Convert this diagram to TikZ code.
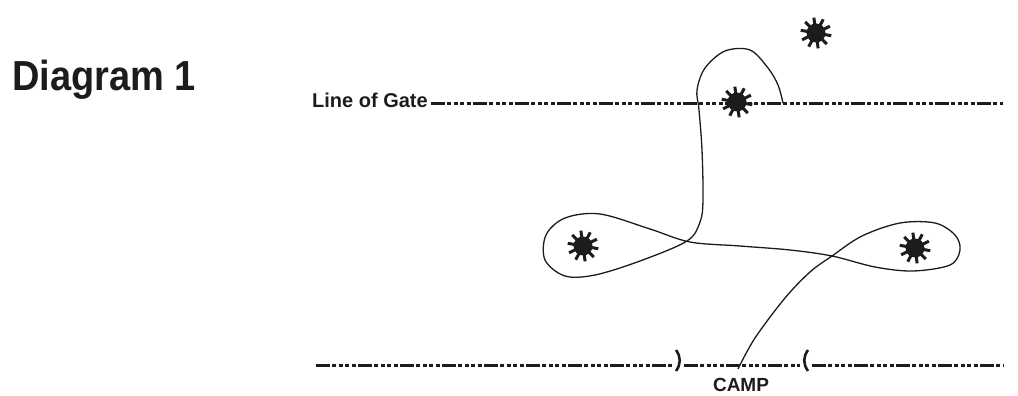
\documentclass[tikz,border=0pt]{standalone}
\usepackage{fontspec}
\setmainfont{Liberation Sans}
\usepackage{xcolor}
\usepackage{graphicx}
\usetikzlibrary{positioning}
\definecolor{diagInk}{RGB}{28,28,28}
\tikzset{
  dotline/.style={diagInk, line width=3pt, dash pattern=on 13.5pt off 2.5pt on 4pt off 2.5pt on 4pt off 2.5pt on 4pt off 2.5pt on 4pt off 2.5pt},
  routeline/.style={diagInk, line width=1.3pt},
  postline/.style={diagInk, line width=2.6pt},
  marklabel/.style={text=diagInk, inner sep=0pt, font=\bfseries\fontsize{19}{19}\selectfont},
}
\newcommand{\flagstar}[2]{%
  \fill[diagInk] (#1,#2) circle (9.5);
  \foreach \ang in {0,36,...,324}
    \draw[diagInk, line width=3pt] (#1,#2)--++(\ang+10:15.5);
}
\begin{document}
\begin{tikzpicture}[x=1pt,y=-1pt]
\useasboundingbox (0,0) rectangle (1018,396);

\node[marklabel, anchor=base west, font=\bfseries\fontsize{42}{42}\selectfont] (title) at (12,91) {\scalebox{0.905}[1]{Diagram 1}};
\node[marklabel, anchor=base west, font=\bfseries\fontsize{20}{20}\selectfont] (gate) at (312,107) {Line of Gate};
\node[marklabel, anchor=base] (camp) at (741,391) {CAMP};

\draw[dotline] (431,103.5)--(1003,103.5);
\draw[dotline] (316,365.5)--(673,365.5);
\draw[dotline] (684,365.5)--(800,365.5);
\draw[dotline] (812,365.5)--(1003,365.5);

% entrance posts
\draw[postline] (676,350) .. controls (681,357) and (681,364) .. (676,371);
\draw[postline] (808,350) .. controls (803,357) and (803,364) .. (808,371);

\flagstar{816}{33}
\flagstar{737}{102}
\flagstar{583}{246}
\flagstar{915}{248}

\draw[routeline] plot[smooth, tension=0.55] coordinates {
  (738,369) (755,338) (785,298) (810,272) (832,256) (862,236) (900,223) (935,223)
  (955,235) (960,250) (950,265) (913,271) (875,267) (832,256) (790,250) (740,246)
  (690,242) (650,229) (600,214) (565,218) (546,235) (545,260) (565,276) (595,275)
  (640,261) (687,241) (700,222) (703,200) (702,150) (699,110) (697,90) (705,68)
  (725,51) (750,50) (768,68) (778,85) (783,103)};
\end{tikzpicture}
\end{document}
